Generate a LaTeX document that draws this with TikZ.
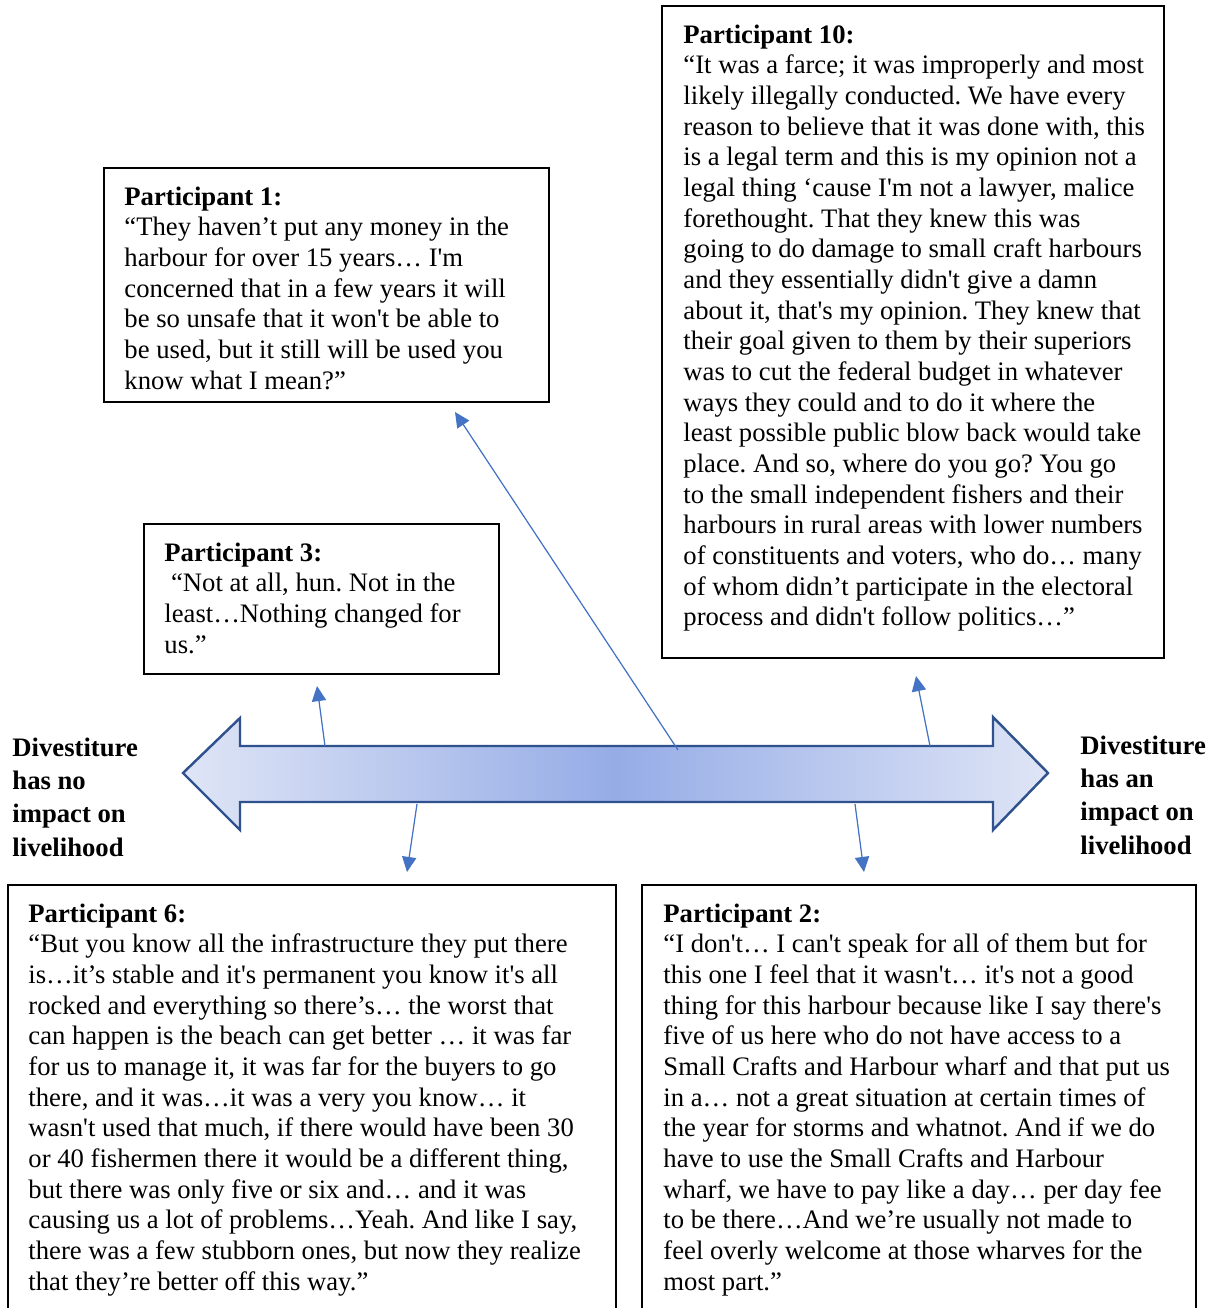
\documentclass[tikz,border=0pt]{standalone}
\usepackage{fontspec}
\setmainfont{Liberation Serif}[Ligatures=TeXOff]
\usetikzlibrary{arrows.meta}
\definecolor{arrline}{HTML}{2F528F}
\definecolor{connblue}{HTML}{4472C4}
\definecolor{shadeend}{HTML}{DFE5F6}
\definecolor{shademid}{HTML}{95ACE6}
\tikzset{
  quotebox/.style={draw=black, line width=0.9pt},
  quotetext/.style={anchor=base west, inner sep=0pt, font=\fontsize{12}{13.8}\selectfont},
  sidelabel/.style={anchor=base west, inner sep=0pt, font=\fontsize{12}{15}\selectfont\bfseries},
  conn/.style={draw=connblue, line width=0.55pt, -{Triangle[length=6.8pt,width=6.4pt]}, fill=connblue},
}
\newcommand{\qtext}[1]{\parbox[t]{400pt}{\frenchspacing\raggedright #1}}
\begin{document}
\begin{tikzpicture}[x=0.45pt, y=-0.45pt]
\useasboundingbox (0,0) rectangle (1216,1308);
\clip (0,0) rectangle (1216,1308);
\fill[white] (0,0) rectangle (1216,1308);

% big double arrow
\path[draw=arrline, line width=1.1pt, line join=miter, left color=shadeend, right color=shadeend, middle color=shademid]
  (183,773) -- (240,718) -- (240,746) -- (993,746) -- (993,717) -- (1048,773)
  -- (993,830) -- (993,802) -- (240,802) -- (240,830) -- cycle;

% side labels
\node[sidelabel] (lnone) at (12,756) {\qtext{Divestiture\\has no\\impact on\\livelihood}};
\node[sidelabel] (limpact) at (1080,754) {\qtext{Divestiture\\has an\\impact on\\livelihood}};

% boxes
\draw[quotebox] (104,168) rectangle (549,402);
\draw[quotebox] (144,524) rectangle (499,674);
\draw[quotebox] (662,6) rectangle (1164,658);
\draw[quotebox] (8,885) rectangle (616,1330);
\draw[quotebox] (642,885) rectangle (1196,1330);

\node[quotetext] (p1) at (124,205) {\qtext{\textbf{Participant 1:}\\
“They haven’t put any money in the\\
harbour for over 15 years… I'm\\
concerned that in a few years it will\\
be so unsafe that it won't be able to\\
be used, but it still will be used you\\
know what I mean?”}};

\node[quotetext] (p3) at (164,561) {\qtext{\textbf{Participant 3:}\\
\mbox{}\ “Not at all, hun. Not in the\\
least…Nothing changed for\\
us.”}};

\node[quotetext] (p10) at (683,43) {\qtext{\textbf{Participant 10:}\\
“It was a farce; it was improperly and most\\
likely illegally conducted. We have every\\
reason to believe that it was done with, this\\
is a legal term and this is my opinion not a\\
legal thing ‘cause I'm not a lawyer, malice\\
forethought. That they knew this was\\
going to do damage to small craft harbours\\
and they essentially didn't give a damn\\
about it, that's my opinion. They knew that\\
their goal given to them by their superiors\\
was to cut the federal budget in whatever\\
ways they could and to do it where the\\
least possible public blow back would take\\
place. And so, where do you go? You go\\
to the small independent fishers and their\\
harbours in rural areas with lower numbers\\
of constituents and voters, who do… many\\
of whom didn’t participate in the electoral\\
process and didn't follow politics…”}};

\node[quotetext] (p6) at (28,922) {\qtext{\textbf{Participant 6:}\\
“But you know all the infrastructure they put there\\
is…it’s stable and it's permanent you know it's all\\
rocked and everything so there’s… the worst that\\
can happen is the beach can get better … it was far\\
for us to manage it, it was far for the buyers to go\\
there, and it was…it was a very you know… it\\
wasn't used that much, if there would have been 30\\
or 40 fishermen there it would be a different thing,\\
but there was only five or six and… and it was\\
causing us a lot of problems…Yeah. And like I say,\\
there was a few stubborn ones, but now they realize\\
that they’re better off this way.”}};

\node[quotetext] (p2) at (663,922) {\qtext{\textbf{Participant 2:}\\
“I don't… I can't speak for all of them but for\\
this one I feel that it wasn't… it's not a good\\
thing for this harbour because like I say there's\\
five of us here who do not have access to a\\
Small Crafts and Harbour wharf and that put us\\
in a… not a great situation at certain times of\\
the year for storms and whatnot. And if we do\\
have to use the Small Crafts and Harbour\\
wharf, we have to pay like a day… per day fee\\
to be there…And we’re usually not made to\\
feel overly welcome at those wharves for the\\
most part.”}};

% connector end points
\coordinate (s1) at (678,750);  \coordinate (e1) at (455,412);
\coordinate (s3) at (325,746);  \coordinate (e3) at (317,686);
\coordinate (s10) at (930,746); \coordinate (e10) at (916,676);
\coordinate (s6) at (417,804);  \coordinate (e6) at (407,872);
\coordinate (s2) at (855,804);  \coordinate (e2) at (864,872);

\draw[conn] (s1) -- (e1);
\draw[conn] (s3) -- (e3);
\draw[conn] (s10) -- (e10);
\draw[conn] (s6) -- (e6);
\draw[conn] (s2) -- (e2);
\end{tikzpicture}
\end{document}
